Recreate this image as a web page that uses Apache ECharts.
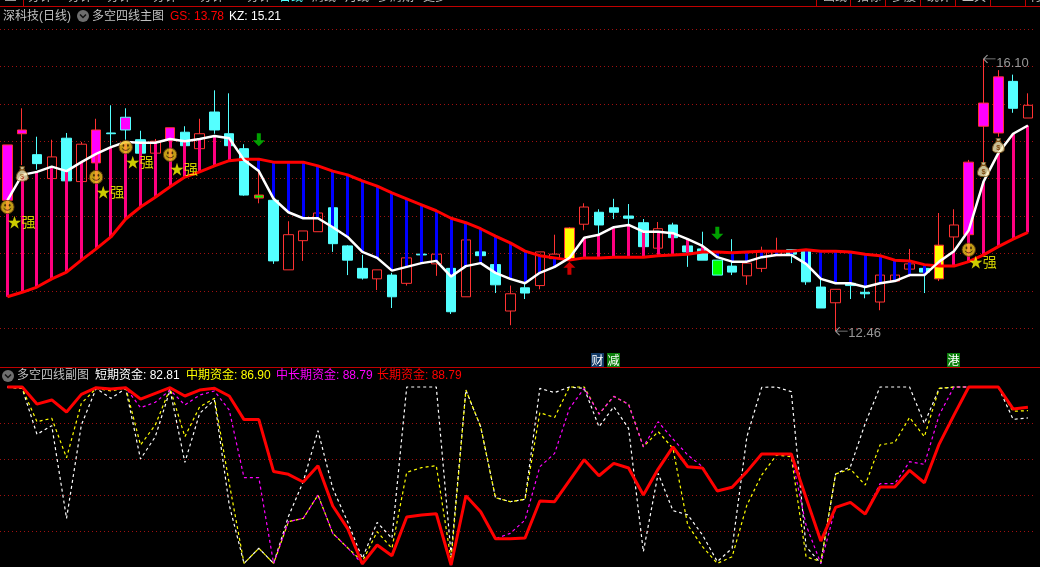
<!DOCTYPE html>
<html>
<head>
<meta charset="utf-8">
<style>html,body{margin:0;padding:0;background:#000}#c{width:1040px;height:567px}</style>
<script src="https://cdn.jsdelivr.net/npm/echarts@6/dist/echarts.min.js"></script>
</head>
<body>
<div id="c"></div>
<script>
const bodyTop=[14.95,15.15,14.82,14.79,15.04,14.96,15.15,15.11,15.32,15.02,15.00,15.18,15.12,15.10,15.39,15.10,14.90,14.28,14.21,13.75,13.80,14.04,14.11,13.60,13.30,13.28,13.21,13.44,13.49,13.49,13.30,13.68,13.52,13.35,12.96,13.04,13.52,13.49,13.84,14.12,14.05,14.11,14.00,13.91,13.83,13.88,13.60,13.56,13.41,13.33,13.37,13.53,13.53,13.55,13.53,13.05,13.02,13.10,12.98,13.21,13.21,13.36,13.30,13.61,13.88,14.72,15.51,15.86,15.80,15.48];
const bodyBottom=[14.21,15.10,14.70,14.50,14.47,14.46,14.71,15.10,15.15,14.84,14.84,15.02,14.94,14.90,15.15,14.94,14.28,14.24,13.40,13.28,13.67,13.79,13.63,13.41,13.17,13.16,12.92,13.10,13.48,13.36,12.72,12.92,13.47,13.08,12.73,12.97,13.07,13.43,13.43,13.89,13.88,14.05,13.97,13.59,13.57,13.71,13.52,13.41,13.21,13.25,13.20,13.30,13.47,13.49,13.12,12.77,12.84,13.07,12.96,12.85,13.13,13.29,13.25,13.16,13.72,13.75,15.20,15.11,15.44,15.31];
const highs=[14.95,15.44,15.06,15.02,15.11,14.99,15.30,15.48,15.44,15.14,15.03,15.18,15.20,15.30,15.68,15.64,14.96,14.75,14.21,13.93,13.80,14.04,14.11,13.61,13.48,13.28,13.24,13.44,13.49,13.49,13.30,13.68,13.52,13.35,13.07,13.09,13.52,13.75,13.85,14.17,14.09,14.23,14.16,13.96,13.92,13.91,13.60,13.79,13.41,13.69,13.37,13.59,13.71,13.55,13.53,13.17,13.02,13.17,13.08,13.21,13.21,13.56,13.30,14.04,14.09,14.75,16.10,15.95,15.89,15.64];
const lows=[14.21,14.68,14.62,14.50,14.47,14.46,14.62,14.94,15.02,14.84,14.82,14.88,14.94,14.88,15.10,14.92,14.27,14.17,13.36,13.28,13.40,13.79,13.52,13.21,13.15,13.01,12.77,13.07,13.48,13.20,12.69,12.92,13.47,12.97,12.54,12.89,13.02,13.32,13.41,13.81,13.76,13.96,13.88,13.59,13.57,13.71,13.32,13.41,13.21,13.21,13.08,13.25,13.47,13.37,13.08,12.77,12.46,12.89,12.90,12.74,13.13,13.19,12.97,13.13,13.52,13.64,14.71,15.06,15.38,15.31];
const candleKinds="MMCRCRMCKCRMCRCCCGCRRRCCCRCRCRCRCCRCRRYRCCCCRCCCLCRRRCCCRCCRRRCYRMMMCR";
const kzLine=[14.21,14.55,14.59,14.66,14.60,14.72,14.83,14.92,14.99,14.98,14.98,15.03,15.00,15.03,15.07,15.04,14.75,14.60,14.23,14.05,13.97,13.97,13.85,13.72,13.52,13.44,13.27,13.32,13.37,13.40,13.19,13.33,13.37,13.24,13.16,13.10,13.24,13.32,13.44,13.71,13.75,13.85,13.88,13.79,13.79,13.77,13.69,13.60,13.45,13.39,13.39,13.45,13.48,13.48,13.36,13.16,13.10,13.10,13.05,13.10,13.13,13.21,13.21,13.39,13.53,13.81,14.46,14.84,15.10,15.21];
const gsLine=[12.92,12.98,13.05,13.16,13.25,13.41,13.56,13.72,13.96,14.12,14.25,14.39,14.52,14.59,14.67,14.74,14.76,14.76,14.72,14.72,14.72,14.67,14.60,14.55,14.47,14.40,14.31,14.23,14.15,14.07,13.97,13.91,13.83,13.73,13.64,13.53,13.47,13.44,13.41,13.44,13.44,13.45,13.45,13.45,13.47,13.48,13.49,13.52,13.52,13.51,13.52,13.53,13.53,13.53,13.55,13.53,13.53,13.52,13.49,13.47,13.41,13.40,13.35,13.33,13.33,13.39,13.48,13.59,13.69,13.78];
const shortFund=[100,99.2,73.7,78.5,27,78.9,99.2,93.7,99.2,60,72.4,98.3,58.1,85.4,92.8,34.4,2,10.4,2,28,47.4,75.7,43.7,25.2,4.8,24.8,15.9,100,100,100,6.7,98.3,77.9,38.5,36.3,37.6,99.2,96.9,100,99.2,77.9,89,77,8.5,52,31.3,29,17.8,3,10.4,72.4,99.8,100,97.4,11.3,2,51.7,55.7,79.8,100,100,100,79.8,99.2,100,100,100,100,82,82.81];
const midFund=[100,99.2,80.7,82.6,60.7,90.9,99.2,97.8,99.6,67.8,78.9,99.2,72.4,89,93.7,46.5,2,10.4,2,25.2,27,40,18.7,10.7,3,19.6,10.4,52.6,55.2,56.3,3.9,98.3,77.9,38.5,36.3,37.6,85.7,83.1,100,100,85,94.8,90.4,66.8,75.2,65.9,23.3,11.3,2,5.7,34.4,51.1,62.2,61.3,5.7,3,51.7,54.4,45.5,67.8,69.2,83.1,72.4,99.2,100,100,100,100,86.5,86.9];
const midLongFund=[100,100,90.5,92.8,86.1,95.9,99.6,98.9,99.6,88.5,91.5,98.3,90,95.5,97.8,87.2,49.6,49.6,2,25.2,27,40,18.7,10.7,1.7,12.2,6.3,27.8,28.9,29.6,1.1,39.6,30.7,15.7,18.7,26.1,55.7,63.1,88.1,99.2,85,94.8,90.4,66.8,80.7,71.1,62.2,55.7,42.2,44.3,53,62.8,62.8,62.2,23.3,2,33.1,35.9,29.4,46.3,46.3,58.5,57,84.4,100,100,100,100,87.8,88.79];
const longFund=[100,100,90.5,92.8,86.1,95.9,99.6,98.9,99.6,93.3,96.5,99.6,95,98.3,99.3,95,81.9,81.9,53,51.5,47.2,56.3,33.9,21.5,1.7,12.2,6.3,27.8,28.9,29.6,1.1,39.6,30.7,15.7,15.7,16.1,36.7,36.3,48,59.6,50.7,57.6,55,40,54.4,66.7,55.7,55,42.2,44.3,53,62.8,62.8,62.8,38.5,14.4,33.1,35.9,29.4,44.4,44.4,53.7,46.8,68.3,84.4,100,100,100,87.8,88.79];
const smileMarks=[[0,14.12],[6,14.52],[8,14.92],[11,14.82],[65,13.55]];
const bagMarks=[[1,14.56],[66,14.62],[67,14.94]];
const strongMarks=[[0,13.93],[6,14.33],[8,14.73],[11,14.63],[65,13.39]];
const greenArrows=[[17,15.02],[48,13.77]];
const redArrows=[[38,13.30]];
const extremes=[[66,16.10],[56,12.46]];
const categories=bodyTop.map((_,i)=>String(i));

const CJK='"Liberation Sans","Noto Sans CJK SC",sans-serif';
const RED='#FF3232',CYAN='#54FFFF',MAG='#FF00FF';
const kindStyle={
  C:{color:CYAN,borderColor:CYAN},
  R:{color:'rgba(0,0,0,0)',borderColor:RED},
  M:{color:MAG,borderColor:RED},
  K:{color:MAG,borderColor:CYAN},
  G:{color:'#00FF00',borderColor:RED},
  L:{color:'#00FF00',borderColor:CYAN},
  Y:{color:'#FFFF00',borderColor:RED}
};
const candleData=categories.map((_,i)=>({
  value:[bodyBottom[i],bodyTop[i],lows[i],highs[i]],
  itemStyle:Object.assign({},kindStyle[candleKinds[i]],{color0:kindStyle[candleKinds[i]].color,borderColor0:kindStyle[candleKinds[i]].borderColor,borderWidth:1})
}));
const svg=s=>'image://data:image/svg+xml;charset=utf-8,'+encodeURIComponent(s);
const smiley=svg('<svg xmlns="http://www.w3.org/2000/svg" width="30" height="30" viewBox="0 0 30 30"><circle cx="15" cy="15" r="13.5" fill="#F2C31C" stroke="#6b4210" stroke-width="2"/><ellipse cx="10.5" cy="11.5" rx="1.8" ry="2.6" fill="#5a3608"/><ellipse cx="19.5" cy="11.5" rx="1.8" ry="2.6" fill="#5a3608"/><path d="M7.5 17.5 Q15 25.5 22.5 17.5" fill="none" stroke="#5a3608" stroke-width="2"/></svg>');
const bag=svg('<svg xmlns="http://www.w3.org/2000/svg" width="30" height="34" viewBox="0 0 30 34"><path d="M10 1 H20 L18 8 Q28 14 28 24 Q28 32 15 32 Q2 32 2 24 Q2 14 12 8 Z" fill="#FBEDB8" stroke="#8a5a18" stroke-width="2"/><path d="M9 8 H21" stroke="#a0661a" stroke-width="2.5"/><text x="15" y="27" font-size="16" font-weight="bold" text-anchor="middle" fill="#9c5a12" font-family="Liberation Sans">$</text></svg>');
const arrowPath='path://M4 0 H8 V7 H12 L6 13 L0 7 H4 Z';
const pointerPath='path://M0 5 L12 5 M0 5 L4 2 M0 5 L4 8';

function renderGap(params,api){
  const i=api.value(0),a=api.coord([i,api.value(1)]),b=api.coord([i,api.value(2)]);
  const bull=api.value(1)>api.value(2);
  const w=3;
  return {type:'rect',shape:{x:Math.round(a[0]-w/2),y:Math.min(a[1],b[1]),width:w,height:Math.abs(a[1]-b[1])},
    style:{fill:bull?'#FF0080':'#0000FF'}};
}
const fundLine=(data,color)=>({type:'line',xAxisIndex:1,yAxisIndex:1,data,symbol:'none',clip:false,animation:false,z:3,
  lineStyle:{color,width:1.2,type:[3,3]}});

const txt=(x,y,text,fill,extra)=>({type:'text',x,y,silent:true,style:Object.assign({text,fill,font:'12px '+CJK,textVerticalAlign:'middle',verticalAlign:'middle'},extra||{})});
const icon=(x,y)=>[
  {type:'circle',shape:{cx:x,cy:y,r:6},style:{fill:'#6e6e6e'},silent:true},
  {type:'polyline',shape:{points:[[x-3,y-1.5],[x,y+1.5],[x+3,y-1.5]]},style:{stroke:'#111',lineWidth:1.5,fill:null},silent:true}
];
const topTabs=[[28,'分钟'],[68,'分钟'],[107,'分钟'],[153,'分钟'],[200,'分钟'],[247,'分钟'],[279,'日线',CYAN],[312,'周线'],[345,'月线'],[378,'多周期'],[423,'更多'],[823,'画线'],[857,'指标'],[892,'多股'],[927,'统计'],[962,'工具'],[1030,'行']];
const graphics=[
  ...topTabs.map(t=>txt(t[0],-2,t[1],t[2]||'#c0c0c0')),
  {type:'rect',shape:{x:0,y:6,width:1040,height:1},style:{fill:'#C00000'},silent:true},
  {type:'rect',shape:{x:0,y:367,width:1040,height:1},style:{fill:'#C00000'},silent:true},
  {type:'rect',shape:{x:23,y:0,width:1,height:6},style:{fill:'#C00000'},silent:true},
  ...[816,850,885,920,955,990,1025].map(x=>({type:'rect',shape:{x,y:0,width:1,height:6},style:{fill:'#C00000'},silent:true})),
  {type:'rect',shape:{x:5,y:0,width:11,height:1},style:{fill:'#999'},silent:true},
  txt(3,16.5,'深科技(日线)','#c0c0c0'),
  ...icon(83,16),
  txt(92,16.5,'多空四线主图','#c0c0c0'),
  txt(170,16.5,'GS: 13.78','#FF0000'),
  txt(229,16.5,'KZ: 15.21','#FFFFFF'),
  ...icon(8,376),
  txt(17,376,'多空四线副图','#c0c0c0'),
  txt(95,376,'短期资金: 82.81','#FFFFFF'),
  txt(186,376,'中期资金: 86.90','#FFFF00'),
  txt(276,376,'中长期资金: 88.79','#FF00FF'),
  txt(377,376,'长期资金: 88.79','#FF0000'),
  {type:'rect',shape:{x:591,y:353,width:13,height:14},style:{fill:'#123A66'},silent:true},
  {type:'rect',shape:{x:607,y:353,width:13,height:14},style:{fill:'#0B7D0B'},silent:true},
  {type:'rect',shape:{x:947,y:353,width:13,height:14},style:{fill:'#0B7D0B'},silent:true},
  txt(591.5,360,'财','#FFFFFF',{font:'12px "Noto Sans CJK SC"'}),
  txt(607.5,360,'减','#FFFFFF',{font:'12px "Noto Sans CJK SC"'}),
  txt(947.5,360,'港','#FFFFFF',{font:'12px "Noto Sans CJK SC"'})
];

const chart=echarts.init(document.getElementById('c'),null,{renderer:'canvas'});
const dottedSplit={show:true,showMinLine:false,showMaxLine:true,lineStyle:{color:'#A01010',width:1,type:[1,3]}};
chart.setOption({
  backgroundColor:'#000',
  animation:false,
  graphic:graphics,
  grid:[
    {left:-0.7,width:1036,top:29,height:336.6},
    {left:-0.7,width:1036,top:387,height:180}
  ],
  xAxis:[
    {type:'category',gridIndex:0,data:categories,show:false},
    {type:'category',gridIndex:1,data:categories,show:false}
  ],
  yAxis:[
    {type:'value',gridIndex:0,min:12,max:16.5,interval:0.5,axisLine:{show:false},axisTick:{show:false},axisLabel:{show:false},splitLine:dottedSplit},
    {type:'value',gridIndex:1,min:0,max:100,interval:20,axisLine:{show:false},axisTick:{show:false},axisLabel:{show:false},
      splitLine:Object.assign({},dottedSplit,{showMaxLine:false})}
  ],
  series:[
    {type:'candlestick',xAxisIndex:0,yAxisIndex:0,data:candleData,barWidth:10,z:2,clip:false},
    {type:'custom',xAxisIndex:0,yAxisIndex:0,z:3,clip:false,encode:{x:0,y:[1,2]},renderItem:renderGap,
      data:categories.map((_,i)=>[i,kzLine[i],gsLine[i]])},
    {type:'line',xAxisIndex:0,yAxisIndex:0,data:gsLine,symbol:'none',z:4,lineStyle:{color:'#FF0000',width:3}},
    {type:'line',xAxisIndex:0,yAxisIndex:0,data:kzLine,symbol:'none',z:5,lineStyle:{color:'#FFFFFF',width:2.5}},
    {type:'scatter',xAxisIndex:0,yAxisIndex:0,data:smileMarks,symbol:smiley,symbolSize:15,z:6},
    {type:'scatter',xAxisIndex:0,yAxisIndex:0,data:bagMarks,symbol:bag,symbolSize:[14,16],z:6},
    {type:'scatter',xAxisIndex:0,yAxisIndex:0,data:strongMarks,symbol:'circle',symbolSize:0,z:6,
      label:{show:true,position:'inside',offset:[14,0],formatter:'★强',color:'#FFFF00',fontSize:14,fontFamily:'"Noto Sans CJK SC"'}},
    {type:'scatter',xAxisIndex:0,yAxisIndex:0,data:greenArrows,symbol:arrowPath,symbolSize:[12,13],itemStyle:{color:'#00C800'},z:6},
    {type:'scatter',xAxisIndex:0,yAxisIndex:0,data:redArrows,symbol:arrowPath,symbolRotate:180,symbolSize:[12,13],itemStyle:{color:'#FF0000'},z:6},
    {type:'scatter',xAxisIndex:0,yAxisIndex:0,
      data:extremes.map((v,k)=>({value:v,label:{offset:[23,k===0?5:2]}})),
      symbol:pointerPath,symbolSize:[12,8],symbolOffset:[6,0],
      itemStyle:{color:'none',borderColor:'#BBBBBB',borderWidth:1},z:6,clip:false,
      label:{show:true,position:'inside',color:'#BBBBBB',fontSize:13,fontFamily:'"Liberation Sans"',
        formatter:p=>p.value[1].toFixed(2)}},
    fundLine(shortFund,'#FFFFFF'),
    fundLine(midFund,'#FFFF00'),
    fundLine(midLongFund,'#FF00FF'),
    {type:'line',xAxisIndex:1,yAxisIndex:1,data:longFund,symbol:'none',clip:false,z:4,lineStyle:{color:'#FF0000',width:3}}
  ]
});
</script>
</body>
</html>
